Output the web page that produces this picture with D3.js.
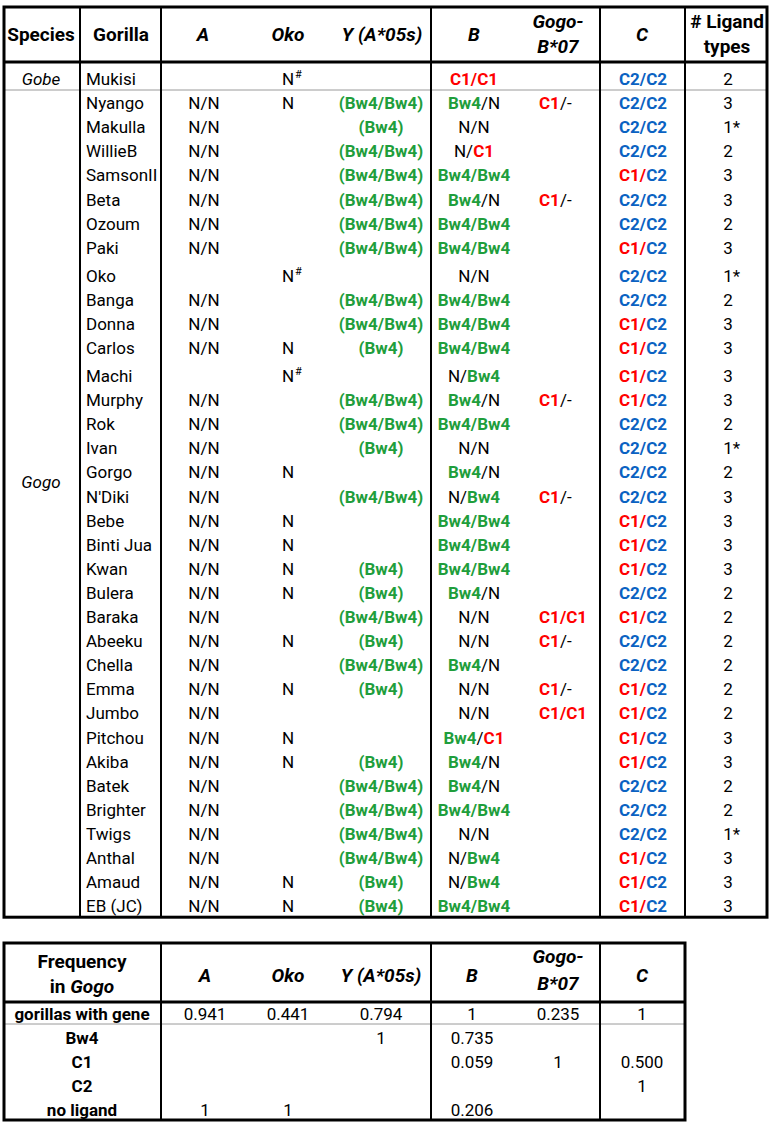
<!DOCTYPE html>
<html>
<head>
<meta charset="utf-8">
<script src="https://cdn.jsdelivr.net/npm/d3@7"></script>
<style>
body { margin: 0; background: #fff; }
text { font-family: Roboto, "Noto Sans", sans-serif; }
</style>
</head>
<body>
<svg id="chart" width="772" height="1128"></svg>
<script>
// ---- dados da tabela principal ----
var species = ["Gobe", "Gogo"];
var gorillas = ["Mukisi", "Nyango", "Makulla", "WillieB", "SamsonII", "Beta", "Ozoum", "Paki",
    "Oko", "Banga", "Donna", "Carlos", "Machi", "Murphy", "Rok", "Ivan", "Gorgo", "N'Diki",
    "Bebe", "Binti Jua", "Kwan", "Bulera", "Baraka", "Abeeku", "Chella", "Emma", "Jumbo",
    "Pitchou", "Akiba", "Batek", "Brighter", "Twigs", "Anthal", "Amaud", "EB (JC)"];
var geneA = ["", "N/N", "N/N", "N/N", "N/N", "N/N", "N/N", "N/N", "", "N/N", "N/N", "N/N", "",
    "N/N", "N/N", "N/N", "N/N", "N/N", "N/N", "N/N", "N/N", "N/N", "N/N", "N/N", "N/N", "N/N",
    "N/N", "N/N", "N/N", "N/N", "N/N", "N/N", "N/N", "N/N", "N/N"];
var geneOko = ["N#", "N", "", "", "", "", "", "", "N#", "", "", "N", "N#", "", "", "", "N", "",
    "N", "N", "N", "N", "", "N", "", "N", "", "N", "N", "", "", "", "", "N", "N"];
var geneY = ["", "(Bw4/Bw4)", "(Bw4)", "(Bw4/Bw4)", "(Bw4/Bw4)", "(Bw4/Bw4)", "(Bw4/Bw4)",
    "(Bw4/Bw4)", "", "(Bw4/Bw4)", "(Bw4/Bw4)", "(Bw4)", "", "(Bw4/Bw4)", "(Bw4/Bw4)", "(Bw4)",
    "", "(Bw4/Bw4)", "", "", "(Bw4)", "(Bw4)", "(Bw4/Bw4)", "(Bw4)", "(Bw4/Bw4)", "(Bw4)", "",
    "", "(Bw4)", "(Bw4/Bw4)", "(Bw4/Bw4)", "(Bw4/Bw4)", "(Bw4/Bw4)", "(Bw4)", "(Bw4)"];
var geneB = ["C1/C1", "Bw4/N", "N/N", "N/C1", "Bw4/Bw4", "Bw4/N", "Bw4/Bw4", "Bw4/Bw4", "N/N",
    "Bw4/Bw4", "Bw4/Bw4", "Bw4/Bw4", "N/Bw4", "Bw4/N", "Bw4/Bw4", "N/N", "Bw4/N", "N/Bw4",
    "Bw4/Bw4", "Bw4/Bw4", "Bw4/Bw4", "Bw4/N", "N/N", "N/N", "Bw4/N", "N/N", "N/N", "Bw4/C1",
    "Bw4/N", "Bw4/N", "Bw4/Bw4", "N/N", "N/Bw4", "N/Bw4", "Bw4/Bw4"];
var geneGogoB = ["", "C1/-", "", "", "", "C1/-", "", "", "", "", "", "", "", "C1/-", "", "", "",
    "C1/-", "", "", "", "", "C1/C1", "C1/-", "", "C1/-", "C1/C1", "", "", "", "", "", "", "", ""];
var geneC = ["C2/C2", "C2/C2", "C2/C2", "C2/C2", "C1/C2", "C2/C2", "C2/C2", "C1/C2", "C2/C2",
    "C2/C2", "C1/C2", "C1/C2", "C1/C2", "C1/C2", "C2/C2", "C2/C2", "C2/C2", "C2/C2", "C1/C2",
    "C1/C2", "C1/C2", "C2/C2", "C1/C2", "C2/C2", "C2/C2", "C1/C2", "C1/C2", "C1/C2", "C1/C2",
    "C2/C2", "C2/C2", "C2/C2", "C1/C2", "C1/C2", "C1/C2"];
var ligandTypes = ["2", "3", "1*", "2", "3", "3", "2", "3", "1*", "2", "3", "3", "3", "3", "2",
    "1*", "2", "3", "3", "3", "3", "2", "2", "2", "2", "2", "2", "3", "3", "2", "2", "1*", "3",
    "3", "3"];

// ---- dados da tabela de frequencias ----
var freqRows = ["gorillas with gene", "Bw4", "C1", "C2", "no ligand"];
var freqA = ["0.941", "", "", "", "1"];
var freqOko = ["0.441", "", "", "", "1"];
var freqY = ["0.794", "1", "", "", ""];
var freqB = ["1", "0.735", "0.059", "", "0.206"];
var freqGogoB = ["0.235", "", "1", "", ""];
var freqC = ["1", "", "0.500", "1", ""];

var cores = { g: '#1f9e3c', r: '#ff0000', b: '#0a62c2', k: '#000000' };
var fs = 17, fsHead = 19;

var svg = d3.select('#chart');

function tokenColor(t) {
    if (t === 'Bw4') return 'g';
    if (t === 'C1') return 'r';
    if (t === 'C2') return 'b';
    return 'k';
}

// divide o texto de uma celula em pedacos coloridos
function segments(s) {
    if (!s) return [];
    if (/^\(?Bw4(\/Bw4)?\)?$/.test(s)) return [[s, 'g']];
    if (s === 'C1/C1') return [[s, 'r']];
    if (s === 'C2/C2') return [[s, 'b']];
    if (s === 'C1/C2') return [['C1/', 'r'], ['C2', 'b']];
    var out = [];
    s.split('/').forEach(function (p, i) {
        if (i > 0) out.push(['/', 'k']);
        out.push([p, tokenColor(p)]);
    });
    return out;
}

function drawCell(g, x, y, str, anchor) {
    if (!str) return;
    var suffix = '';
    var m = str.match(/^(.*?)([#*])$/);
    if (m) { str = m[1]; suffix = m[2]; }
    var t = g.append('text')
        .attr('x', x).attr('y', y)
        .attr('text-anchor', anchor)
        .style('font-size', fs + 'px');
    segments(str).forEach(function (s) {
        t.append('tspan').text(s[0])
            .attr('fill', cores[s[1]])
            .attr('font-weight', s[1] === 'k' ? 'normal' : 'bold');
    });
    if (suffix) {
        var w = t.node().getComputedTextLength();
        var x0 = anchor === 'middle' ? x + w / 2 : x + w;
        g.append('text')
            .attr('x', x0 + (suffix === '#' ? 1 : 0))
            .attr('y', suffix === '#' ? y - 7 : y)
            .style('font-size', suffix === '#' ? '11px' : fs + 'px')
            .text(suffix);
    }
}

function drawHeader(g, x, baselines, lines, italic) {
    var t = g.append('text').attr('text-anchor', 'middle')
        .style('font-size', fsHead + 'px').attr('font-weight', 'bold')
        .attr('font-style', italic ? 'italic' : 'normal');
    lines.forEach(function (l, i) {
        var ts = t.append('tspan').attr('x', x).attr('y', baselines[lines.length - 1][i]);
        if (Array.isArray(l)) {
            l.forEach(function (p) {
                ts.append('tspan').text(p[0]).attr('font-style', p[1] ? 'italic' : 'normal');
            });
        } else {
            ts.text(l);
        }
    });
}

function line(g, x1, y1, x2, y2, w, c) {
    g.append('line').attr('x1', x1).attr('y1', y1).attr('x2', x2).attr('y2', y2)
        .attr('stroke', c || '#000').attr('stroke-width', w);
}

// ---- tabela principal ----
var mainLeft = 4, mainRight = 767, mainTop = 7, headBottom = 62;
var rowH = gorillas.map(function (d, i) { return geneOko[i].indexOf('#') >= 0 ? 28 : 24.1; });
var rowBottom = d3.cumsum(rowH);
var totalH = d3.sum(rowH);
var y = d3.scaleLinear().domain([0, totalH]).range([headBottom, headBottom + totalH]);
var mainBottom = y(totalH);

var cols = ['species', 'gorilla', 'A', 'Oko', 'Y', 'B', 'GogoB', 'C', 'L'];
var xCell = d3.scaleOrdinal().domain(cols).range([41, 86, 204, 288, 381, 474, 539, 643, 728]);
var xHead = d3.scaleOrdinal().domain(cols).range([41, 121, 203, 288, 382, 474, 558, 642, 727]);
var headBase = [[41], [28, 53]];

var main = svg.append('g');
var heads = [["Species"], ["Gorilla"], ["A"], ["Oko"], ["Y (A*05s)"], ["B"], ["Gogo-", "B*07"], ["C"], ["# Ligand", "types"]];
var headItalic = [false, false, true, true, true, true, true, true, false];
cols.forEach(function (c, i) {
    drawHeader(main, xHead(c), headBase, heads[i], headItalic[i]);
});

var body = main.append('g');
gorillas.forEach(function (name, i) {
    var yb = y(rowBottom[i]) - 5;
    body.append('text').attr('x', xCell('gorilla')).attr('y', yb)
        .style('font-size', fs + 'px').text(name);
    drawCell(body, xCell('A'), yb, geneA[i], 'middle');
    drawCell(body, xCell('Oko'), yb, geneOko[i], 'middle');
    drawCell(body, xCell('Y'), yb, geneY[i], 'middle');
    drawCell(body, xCell('B'), yb, geneB[i], 'middle');
    drawCell(body, xCell('GogoB'), yb, geneGogoB[i], 'start');
    drawCell(body, xCell('C'), yb, geneC[i], 'middle');
    drawCell(body, xCell('L'), yb, ligandTypes[i], 'middle');
});

// rotulos de especie
body.append('text').attr('x', xCell('species')).attr('y', y(rowBottom[0]) - 5)
    .attr('text-anchor', 'middle').attr('font-style', 'italic')
    .style('font-size', fs + 'px').text(species[0]);
body.append('text').attr('x', xCell('species')).attr('y', 488)
    .attr('text-anchor', 'middle').attr('font-style', 'italic')
    .style('font-size', fs + 'px').text(species[1]);

// linhas
var grid = main.append('g');
line(grid, mainLeft, y(rowBottom[0]), mainRight, y(rowBottom[0]), 1, '#9a9a9a');
[80, 161, 431, 600, 685].forEach(function (xv) {
    line(grid, xv, mainTop, xv, mainBottom, 2);
});
line(grid, mainLeft, headBottom, mainRight, headBottom, 3);
grid.append('rect').attr('x', mainLeft).attr('y', mainTop)
    .attr('width', mainRight - mainLeft).attr('height', mainBottom - mainTop)
    .attr('fill', 'none').attr('stroke', '#000').attr('stroke-width', 3);

// ---- tabela de frequencias ----
var fTop = 943, fHeadBottom = 1002, fRight = 685;
var fRowH = freqRows.map(function (d, i) { return i === 0 ? 22 : 24; });
var fRowBottom = d3.cumsum(fRowH);
var fy = d3.scaleLinear().domain([0, d3.sum(fRowH)]).range([fHeadBottom, fHeadBottom + d3.sum(fRowH)]);
var fBottom = fy(d3.sum(fRowH));

var fCols = ['label', 'A', 'Oko', 'Y', 'B', 'GogoB', 'C'];
var fx = d3.scaleOrdinal().domain(fCols).range([82, 205, 288, 381, 472, 558, 642]);
var fHeadBase = [[982], [968, 993]];
var fHeads = [["Frequency", [["in ", false], ["Gogo", true]]], ["A"], ["Oko"], ["Y (A*05s)"], ["B"], ["Gogo-", "B*07"], ["C"]];
var fHeadItalic = [false, true, true, true, true, true, true];
var fBase2 = [[982], [963, 990]];

var freq = svg.append('g');
fCols.forEach(function (c, i) {
    drawHeader(freq, fx(c), i === 5 ? fBase2 : fHeadBase, fHeads[i], fHeadItalic[i]);
});

var fVals = [freqA, freqOko, freqY, freqB, freqGogoB, freqC];
freqRows.forEach(function (r, i) {
    var yb = fy(fRowBottom[i]) - 4;
    freq.append('text').attr('x', fx('label')).attr('y', yb)
        .attr('text-anchor', 'middle').attr('font-weight', 'bold')
        .style('font-size', fs + 'px').text(r);
    fVals.forEach(function (arr, j) {
        if (!arr[i]) return;
        freq.append('text').attr('x', fx(fCols[j + 1])).attr('y', yb)
            .attr('text-anchor', 'middle')
            .style('font-size', fs + 'px').text(arr[i]);
    });
});

var fGrid = freq.append('g');
line(fGrid, mainLeft, fy(fRowBottom[0]), fRight, fy(fRowBottom[0]), 1, '#9a9a9a');
[161, 431, 600].forEach(function (xv) {
    line(fGrid, xv, fTop, xv, fBottom, 2);
});
line(fGrid, mainLeft, fHeadBottom, fRight, fHeadBottom, 3);
fGrid.append('rect').attr('x', mainLeft).attr('y', fTop)
    .attr('width', fRight - mainLeft).attr('height', fBottom - fTop)
    .attr('fill', 'none').attr('stroke', '#000').attr('stroke-width', 3);
</script>
</body>
</html>
